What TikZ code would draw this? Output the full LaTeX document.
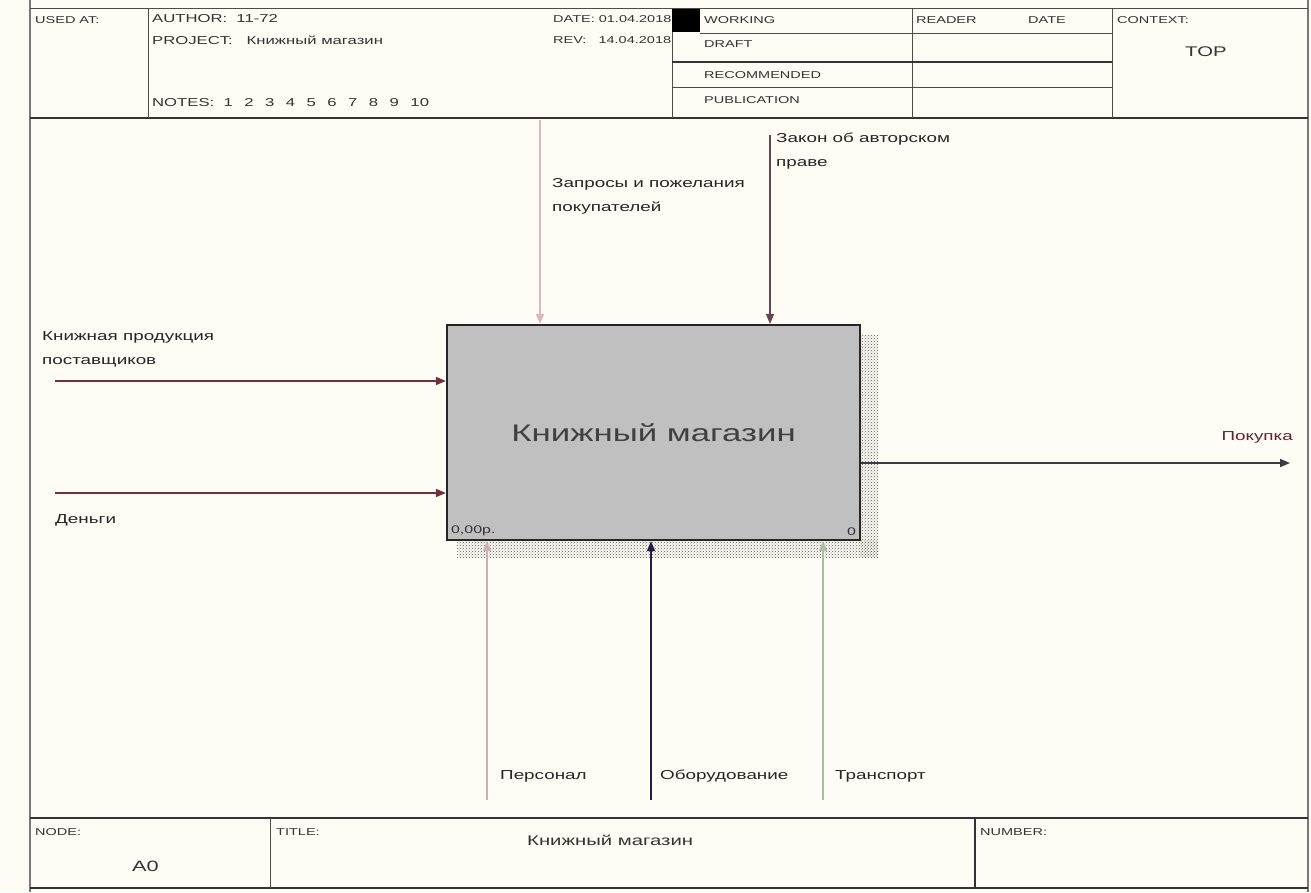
\documentclass[tikz,border=0pt]{standalone}
\usepackage{fontspec}
\setmainfont{Liberation Sans}[FakeStretch=1.45]
\usetikzlibrary{arrows.meta,positioning,patterns}
\definecolor{pagebg}{RGB}{255,252,245}
\definecolor{boxgray}{RGB}{192,192,192}
\definecolor{frmgray}{RGB}{120,120,120}
\definecolor{inred}{RGB}{110,50,58}
\definecolor{ctpale}{RGB}{218,185,190}
\definecolor{ctdark}{RGB}{100,70,80}
\definecolor{outgray}{RGB}{60,60,60}
\definecolor{mcpink}{RGB}{205,175,180}
\definecolor{mcnavy}{RGB}{30,30,70}
\definecolor{mcgreen}{RGB}{172,188,165}
\tikzset{
  frm/.style={draw=frmgray, line width=2.5pt},
  hln/.style={draw=black!70, line width=0.8pt},
  hthick/.style={draw=black!80, line width=1.6pt},
  htxt/.style={font=\fontsize{10}{12}\selectfont, inner sep=0pt, anchor=west, text=black!80},
  fnbox/.style={draw=black!85, fill=boxgray, line width=2.2pt, minimum width=413pt, minimum height=215pt,
                font=\fontsize{24}{26}\selectfont, text=black!75},
  shd/.style={pattern=crosshatch dots, pattern color=black!65},
  arr/.style={-{Triangle[length=10pt,width=8pt]}, line width=1.6pt},
  lbl/.style={font=\fontsize{13}{24}\selectfont, inner sep=0pt, align=left, text=black!85},
  sml/.style={font=\fontsize{11}{12}\selectfont, inner sep=0pt, text=black!80},
}

\begin{document}
\begin{tikzpicture}[x=1pt, y=-1pt]
    \fill[pagebg] (0,0) rectangle (1311,892);
    \useasboundingbox (0,0) rectangle (1311,892);
    % frame
    \draw[frm] (30,0) -- (30,892);
    \draw[frm] (1308,0) -- (1308,892);
    \draw[hln] (30,8) -- (1308,8);
    \draw[hthick] (30,118) -- (1308,118);
    \draw[hthick] (30,818) -- (1308,818);
    \draw[hthick] (30,888) -- (1308,888);
    \begin{scope}
      \draw[hln] (148,8) -- (148,118); \draw[hln] (672,8) -- (672,118);
      \draw[hln] (912,8) -- (912,118); \draw[hln] (1112,8) -- (1112,118);
      \fill[black] (672,9) rectangle (700,32);
      \draw[hln] (700,33) -- (1112,33);
      \draw[hthick] (672,62) -- (1112,62);
      \draw[hln] (672,87) -- (1112,87);
      \node[htxt] (usedat) at (35,20) {USED AT:};
      \node[htxt, font=\fontsize{11.5}{13}\selectfont] (author) at (152,19) {AUTHOR:\ \ 11-72};
      \node[htxt, font=\fontsize{11.5}{13}\selectfont] (project) at (152,40) {PROJECT:\ \ \ Книжный магазин};
      \node[htxt] (date) at (553,19) {DATE:\ 01.04.2018};
      \node[htxt] (rev) at (553,40) {REV:\ \ \ 14.04.2018};
      \node[htxt, font=\fontsize{11.5}{13}\selectfont] (notes) at (152,103)
           {NOTES:\ \ 1\quad 2\quad 3\quad 4\quad 5\quad 6\quad 7\quad 8\quad 9\quad 10};
      \node[htxt] (working) at (704,20) {WORKING};
      \node[htxt] (draft) at (704,44) {DRAFT};
      \node[htxt] (recomm) at (704,75) {RECOMMENDED};
      \node[htxt] (public) at (704,100) {PUBLICATION};
      \node[htxt] (reader) at (916,20) {READER};
      \node[htxt] (rdate) at (1028,20) {DATE};
      \node[htxt] (context) at (1117,20) {CONTEXT:};
      \node[htxt, font=\fontsize{14}{16}\selectfont] (top) at (1185,52) {TOP};
    \end{scope}
    % function box
    \fill[shd] (860,335) rectangle (878,557);
    \fill[shd] (457,540) rectangle (878,557);
    \node[fnbox] (a0) at (653.5,432.5) {Книжный магазин};
    \node[sml, anchor=south west] (cost) at ([shift={(5,-5)}]a0.south west) {0,00р.};
    \node[sml, anchor=south east] (num) at ([shift={(-5,-5)}]a0.south east) {0};
    % inputs
    \coordinate (in1) at (55,381); \coordinate (in2) at (55,493);
    \draw[arr, inred] (in1) -- (in1 -| a0.west);
    \draw[arr, inred] (in2) -- (in2 -| a0.west);
    \node[lbl, anchor=north west] (lin1) at (42,331) {Книжная продукция\\поставщиков};
    \node[lbl, anchor=west] (lin2) at (55,520) {Деньги};
    % controls
    \coordinate (ct1) at (540,120); \coordinate (ct2) at (770,135);
    \draw[arr, ctpale] (ct1) -- (ct1 |- a0.north);
    \draw[arr, ctdark] (ct2) -- (ct2 |- a0.north);
    \node[lbl, anchor=north west] (lct1) at (552,178) {Запросы и пожелания\\покупателей};
    \node[lbl, anchor=north west] (lct2) at (776,133) {Закон об авторском\\праве};
    % output
    \coordinate (out1) at (1290,463);
    \draw[arr, outgray] (out1 -| a0.east) -- (out1);
    \node[lbl, anchor=east, text=inred!80!black] (lout1) at (1293,437) {Покупка};
    % mechanisms
    \coordinate (mc1) at (487,800); \coordinate (mc2) at (651,800); \coordinate (mc3) at (823,800);
    \draw[arr, mcpink] (mc1) -- (mc1 |- a0.south);
    \draw[arr, mcnavy] (mc2) -- (mc2 |- a0.south);
    \draw[arr, mcgreen] (mc3) -- (mc3 |- a0.south);
    \node[lbl, anchor=west] (lmc1) at (500,776) {Персонал};
    \node[lbl, anchor=west] (lmc2) at (660,776) {Оборудование};
    \node[lbl, anchor=west] (lmc3) at (835,776) {Транспорт};
    % footer
    \draw[hln] (270,818) -- (270,888); \draw[hthick] (975,818) -- (975,888);
    \node[htxt] (node) at (35,832) {NODE:};
    \node[htxt, font=\fontsize{15}{16}\selectfont] (nodeid) at (132,866) {A0};
    \node[htxt] (title) at (276,832) {TITLE:};
    \node[htxt, font=\fontsize{14}{16}\selectfont] (ttl) at (527,840) {Книжный магазин};
    \node[htxt] (number) at (980,832) {NUMBER:};
  \end{tikzpicture}
\end{document}
